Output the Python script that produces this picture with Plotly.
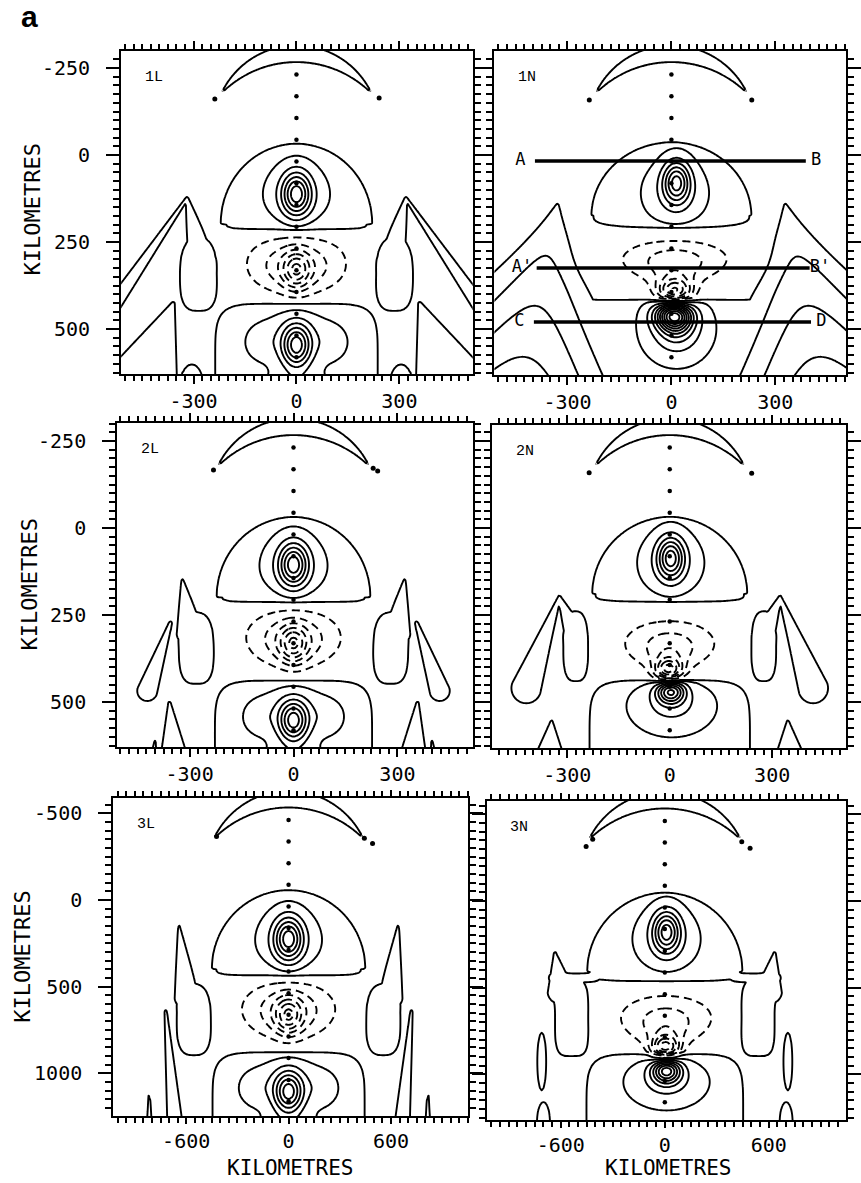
import numpy as np
import plotly.graph_objects as go

W, H = 861, 1183

# ---------------- data ----------------
panel_names = ["1L", "1N", "2L", "2N", "3L", "3N"]
panel_scale = [1, 1, 1, 1, 2, 2]          # row 3 axes are doubled

x_major_small = [-300, 0, 300]
y_major_small = [-250, 0, 250, 500]
x_major_large = [-600, 0, 600]
y_major_large = [-500, 0, 500, 1000]

# dotted profile along x = 0 (model units)
dot_y = [-231, -169, -106, -44, 19, 81, 144, 206, 269, 331, 394, 456, 519, 581]

# dots near the tips of the crescent
end_dots_1L = [(-238, -161), (241, -164)]
end_dots_1N = [(-237, -158), (232, -158)]
end_dots_2L = [(-231, -167), (230, -172), (243, -164)]
end_dots_2N = [(-236, -159), (240, -157)]
end_dots_3L = [(-211, -183), (222, -178), (246, -163)]
end_dots_3N = [(-208, -178), (-227, -157), (222, -171), (246, -152)]

# crescent = inside outer circle and outside inner circle: (x, y, radius)
crescent_outer = (0, -72, 243)
crescent_inner = (0, 44.5, 311.5)

# section lines in panel 1N
section_y = [17, 325, 480]
section_x0 = [-394, -389, -397]
section_x1 = [388, 399, 403]
section_left = ["A", "A'", "C"]
section_right = ["B", "B'", "D"]

# field components
# plateau: (x0, y0, a, b_top, b_bottom, p_top, p_bottom, amp)
# ridge:   (x0, y0, x1, y1, w0, w1, amp0, amp1)   (mirrored about x=0)
# core:    (x, y, sx, sy, amp)
plateaus_1L = [(0, 197, 222, 230, 20, 2.0, 4, 1.6),
               (0, 640, 238, 215, 400, 6, 6, 1.6),
               (-285, 345, 56, 110, 105, 2.5, 3, 1.6),
               (-305, 665, 35, 65, 60, 2, 2, 1.6)]
ridges_1L = [(-560, 470, -319, 124, 24, 4, 1.6, 1.6),
             (-319, 124, -272, 320, 4, 48, 1.6, 1.6),
             (-360, 428, -480, 740, 6, 150, 1.6, 1.6)]
cores_1L = [(0, 118, 62, 62, 1.4), (0, 112, 28, 42, 4.8),
            (0, 310, 125, 65, -1.7), (0, 325, 70, 48, -1.5), (0, 332, 26, 36, -3.3),
            (0, 530, 80, 55, 1.4), (0, 548, 28, 42, 4.8),
            (-108, 540, 25, 28, 0.6), (108, 540, 25, 28, 0.6), (0, 700, 60, 45, 2.0)]

plateaus_1N = [(0, 175, 232, 212, 35, 2.0, 3, 1.6),
               (0, 900, 700, 485, 400, 8, 8, 1.6)]
ridges_1N = [(-322, 110, -430, 640, 5, 210, 0.8, 4.4)]
cores_1N = [(10, 110, 62, 62, 1.4), (15, 78, 26, 40, 4.8),
            (10, 300, 125, 45, -2.0), (10, 330, 60, 40, -1.0), (10, 395, 35, 28, -6.5),
            (5, 458, 35, 28, 6.5), (15, 500, 62, 62, 2.2), (15, 475, 30, 35, 2.5)]

plateaus_2L = [(0, 198, 223, 230, 18, 2.0, 4, 1.6),
               (0, 650, 228, 213, 400, 6, 6, 1.6),
               (-280, 345, 52, 105, 105, 2.5, 3, 1.6)]
ridges_2L = [(-321, 149, -298, 300, 3, 42, 1.6, 1.6),
             (-355, 273, -422, 468, 5, 30, 1.6, 1.6),
             (-358, 503, -340, 720, 4, 55, 1.6, 1.6),
             (-401, 612, -401, 680, 2, 12, 1.6, 1.6)]
cores_2L = [(0, 112, 62, 62, 1.4), (0, 105, 28, 42, 4.8),
            (0, 312, 115, 65, -1.7), (0, 325, 65, 48, -1.5), (0, 335, 26, 36, -3.3),
            (0, 535, 78, 52, 1.4), (0, 555, 28, 40, 4.8),
            (-105, 545, 25, 28, 0.6), (105, 545, 25, 28, 0.6), (0, 705, 60, 45, 2.0)]

plateaus_2N = [(0, 190, 228, 222, 23, 2.0, 4, 1.6),
               (0, 650, 236, 213, 400, 6, 6, 1.6),
               (-275, 340, 38, 104, 103, 2.5, 3, 1.6)]
ridges_2N = [(-323, 198, -420, 460, 4, 45, 1.6, 1.6),
             (-323, 198, -280, 300, 4, 32, 1.6, 1.6),
             (-346, 557, -355, 720, 4, 70, 1.6, 1.6)]
cores_2N = [(3, 100, 62, 62, 1.4), (3, 86, 26, 40, 4.8),
            (0, 330, 115, 55, -1.8), (0, 360, 55, 40, -1.2), (-3, 412, 28, 25, -6.0),
            (3, 467, 28, 25, 6.0), (6, 510, 80, 55, 1.6)]

plateaus_3L = [(0, 199, 226, 228, 22, 2.0, 4, 1.6),
               (0, 650, 224, 212, 400, 6, 6, 1.6),
               (-277, 345, 52, 105, 105, 2.5, 3, 1.6)]
ridges_3L = [(-321, 77, -298, 280, 3, 38, 1.6, 1.6),
             (-360, 322, -330, 680, 4, 25, 1.6, 1.6),
             (-408, 562, -408, 680, 2, 10, 1.6, 1.6)]
cores_3L = [(0, 120, 62, 62, 1.4), (0, 112, 28, 42, 4.8),
            (0, 312, 115, 65, -1.7), (0, 325, 65, 48, -1.5), (0, 335, 26, 36, -3.3),
            (0, 535, 78, 52, 1.4), (0, 555, 28, 40, 4.8),
            (-105, 545, 25, 28, 0.6), (105, 545, 25, 28, 0.6), (0, 700, 60, 45, 2.0)]

plateaus_3N = [(0, 205, 225, 229, 28, 2.0, 4, 1.6),
               (0, 655, 227, 215, 400, 6, 6, 1.6),
               (-268, 335, 50, 112, 115, 3.5, 4, 1.6),
               (-262, 222, 78, 14, 14, 4, 4, 1.6),
               (-355, 463, 14, 90, 90, 2, 2, 1.6),
               (-350, 640, 20, 63, 60, 2, 2, 1.6)]
ridges_3N = [(-300, 260, -317, 149, 40, 3, 1.6, 1.6)]
cores_3N = [(5, 110, 62, 62, 1.4), (5, 88, 26, 40, 4.8),
            (4, 335, 115, 55, -1.8), (3, 370, 55, 40, -1.2), (2, 425, 28, 25, -6.0),
            (5, 488, 28, 25, 6.0), (5, 521, 75, 50, 1.6)]

components = {
    "1L": (plateaus_1L, ridges_1L, cores_1L, end_dots_1L),
    "1N": (plateaus_1N, ridges_1N, cores_1N, end_dots_1N),
    "2L": (plateaus_2L, ridges_2L, cores_2L, end_dots_2L),
    "2N": (plateaus_2N, ridges_2N, cores_2N, end_dots_2N),
    "3L": (plateaus_3L, ridges_3L, cores_3L, end_dots_3L),
    "3N": (plateaus_3N, ridges_3N, cores_3N, end_dots_3N),
}

# ---------------- layout geometry (pixels) ----------------
# frame (x0, x1, y0, y1), zero position (zx, zy), px per km (sx, sy)
geom = {
    "1L": ((123, 480, 51, 374), (301, 155), (0.3483, 0.348)),
    "1N": ((502, 859, 51, 375), (681.7, 155), (0.3517, 0.348)),
    "2L": ((119, 480, 423, 747), (298, 528), (0.3517, 0.348)),
    "2N": ((500, 859, 425, 748), (680, 528), (0.3467, 0.348)),
    "3L": ((115, 475, 798, 1116), (293, 900), (0.1733, 0.1733)),
    "3N": ((494, 859, 801, 1120), (675, 901), (0.176, 0.1733)),
}

# ---------------- field model ----------------
gx = np.arange(-570, 571, 5.0)
gy = np.arange(-350, 711, 5.0)
X, Y = np.meshgrid(gx, gy)


def plateau(Xa, Ya, p):
    x0, y0, a, bt, bb, pt, pb, amp = p
    dx = np.abs(Xa - x0) / a
    dy = Ya - y0
    up = dy < 0
    b = np.where(up, bt, bb)
    pw = np.where(up, pt, pb)
    q = (dx ** pw + (np.abs(dy) / b) ** pw) ** (1.0 / pw)
    m = np.minimum(a, b)
    s = np.clip((1.0 - q) * m / 12.0 + 0.5, 0, 1)
    return amp * s * s * (3 - 2 * s)


def ridge(Xa, Ya, r):
    x0, y0, x1, y1, w0, w1, a0, a1 = r
    vx, vy = x1 - x0, y1 - y0
    L2 = vx * vx + vy * vy
    t = np.clip(((Xa - x0) * vx + (Ya - y0) * vy) / L2, 0, 1)
    d = np.hypot(Xa - (x0 + t * vx), Ya - (y0 + t * vy))
    w = w0 + t * (w1 - w0)
    a = a0 + t * (a1 - a0)
    return a * np.exp(-0.5 * (d / w) ** 2)


def field(plats, rids, cores):
    bg = np.zeros_like(X)
    for p in plats:
        v = plateau(X, Y, p)
        if p[0] < -40:
            v = np.maximum(v, plateau(-X, Y, p))
        bg = np.maximum(bg, v)
    for r in rids:
        bg = np.maximum(bg, np.maximum(ridge(X, Y, r), ridge(-X, Y, r)))
    z = bg.copy()
    for (cx, cy, sx, sy, amp) in cores:
        z += amp * np.exp(-0.5 * ((X - cx) / sx) ** 2 - 0.5 * ((Y - cy) / sy) ** 2)
    return z


cres = np.minimum(crescent_outer[2] - np.hypot(X - crescent_outer[0], Y - crescent_outer[1]),
                  np.hypot(X - crescent_inner[0], Y - crescent_inner[1]) - crescent_inner[2])

# ---------------- figure ----------------
fig = go.Figure()
black = [[0, "black"], [1, "black"]]
tickfont = dict(family="DejaVu Sans Mono", size=20, color="black")
layout_axes = {}
annotations = []
LW = 1.9

for i, name in enumerate(panel_names, start=1):
    s = panel_scale[i - 1]
    plats, rids, cores, edots = components[name]
    z = np.round(field(plats, rids, cores), 3)
    xa, ya = f"x{i}", f"y{i}"
    common = dict(x=gx * s, y=gy * s, showscale=False, hoverinfo="skip",
                  colorscale=black, xaxis=xa, yaxis=ya, autocontour=False)
    fig.add_trace(go.Contour(z=z, contours=dict(start=1, end=14, size=1, coloring="lines"),
                             line=dict(width=LW, smoothing=0.6), **common))
    fig.add_trace(go.Contour(z=z, contours=dict(start=-14, end=-1, size=1, coloring="lines"),
                             line=dict(width=LW, smoothing=0.6, dash="8px,5px"), **common))
    fig.add_trace(go.Contour(z=np.round(cres, 2), contours=dict(start=0, end=0.5, size=1, coloring="lines"),
                             line=dict(width=LW, smoothing=0.6), **common))
    fig.add_trace(go.Scatter(x=[0] * len(dot_y), y=[v * s for v in dot_y], mode="markers",
                             marker=dict(size=4.5, color="black"), hoverinfo="skip",
                             showlegend=False, xaxis=xa, yaxis=ya))
    fig.add_trace(go.Scatter(x=[d[0] * s for d in edots], y=[d[1] * s for d in edots], mode="markers",
                             marker=dict(size=5, color="black"), hoverinfo="skip",
                             showlegend=False, xaxis=xa, yaxis=ya))

    (px0, px1, py0, py1), (zx, zy), (sx, sy) = geom[name]
    xr = [(px0 - zx) / sx, (px1 - zx) / sx]
    yr = [(py1 - zy) / sy, (py0 - zy) / sy]
    big = s == 2
    left = name.endswith("L")
    xticks = x_major_large if big else x_major_small
    yticks = y_major_large if big else y_major_small
    minor_step = 50 if big else 25
    layout_axes[f"xaxis{i}" if i > 1 else "xaxis"] = dict(
        domain=[px0 / W, px1 / W], range=xr, anchor=ya,
        showline=True, linewidth=2, linecolor="black", mirror="allticks",
        ticks="outside", ticklen=6 if big else 8, tickwidth=2, tickcolor="black",
        tickmode="array", tickvals=xticks, ticktext=[str(v) for v in xticks],
        minor=dict(ticks="outside", ticklen=5, tickwidth=1.5, tickcolor="black",
                   tickmode="linear", tick0=0, dtick=minor_step),
        showgrid=False, zeroline=False, tickfont=tickfont, ticklabelstandoff=0,
    )
    layout_axes[f"yaxis{i}" if i > 1 else "yaxis"] = dict(
        domain=[1 - py1 / H, 1 - py0 / H], range=yr, anchor=xa,
        showline=True, linewidth=2, linecolor="black", mirror="allticks",
        ticks="outside", ticklen=13, tickwidth=2, tickcolor="black",
        tickmode="array", tickvals=yticks, ticktext=[str(v) for v in yticks],
        minor=dict(ticks="outside", ticklen=6, tickwidth=1.5, tickcolor="black",
                   tickmode="linear", tick0=0, dtick=minor_step),
        showgrid=False, zeroline=False, tickfont=tickfont,
        showticklabels=left, ticklabelstandoff=12,
    )
    annotations.append(dict(x=(px0 + 22) / W, y=1 - (py0 + 26) / H, xref="paper", yref="paper",
                            text=name, showarrow=False, xanchor="left", yanchor="middle",
                            font=dict(family="Liberation Mono", size=15, color="black")))

# section lines in 1N
for k in range(len(section_y)):
    fig.add_trace(go.Scatter(x=[section_x0[k], section_x1[k]], y=[section_y[k], section_y[k]],
                             mode="lines", line=dict(color="black", width=3.5), hoverinfo="skip",
                             showlegend=False, xaxis="x2", yaxis="y2"))
    fig.add_trace(go.Scatter(x=[section_x0[k] - 42, section_x1[k] + 30], y=[section_y[k], section_y[k]],
                             mode="text", text=[section_left[k], section_right[k]],
                             textfont=dict(family="DejaVu Sans Mono", size=17, color="black"),
                             hoverinfo="skip", showlegend=False, xaxis="x2", yaxis="y2"))

title_font = dict(family="DejaVu Sans Mono", size=22, color="black")
title_font_x = dict(family="DejaVu Sans Mono", size=21, color="black")
for (tx, ty) in [(32, 210), (29, 585), (22, 957)]:
    annotations.append(dict(x=tx / W, y=1 - ty / H, xref="paper", yref="paper", text="KILOMETRES",
                            textangle=-90, showarrow=False, font=title_font,
                            xanchor="center", yanchor="middle"))
for (tx, ty) in [(294, 1168), (678, 1168)]:
    annotations.append(dict(x=tx / W, y=1 - ty / H, xref="paper", yref="paper", text="KILOMETRES",
                            showarrow=False, font=title_font_x, xanchor="center", yanchor="middle"))
annotations.append(dict(x=30 / W, y=1 - 16 / H, xref="paper", yref="paper", text="<b>a</b>",
                        showarrow=False, xanchor="center", yanchor="middle",
                        font=dict(family="Liberation Sans", size=30, color="black")))

fig.update_layout(width=W, height=H, margin=dict(l=0, r=0, t=0, b=0),
                  paper_bgcolor="white", plot_bgcolor="white", showlegend=False,
                  annotations=annotations, **layout_axes)

fig.write_html("out.html")
